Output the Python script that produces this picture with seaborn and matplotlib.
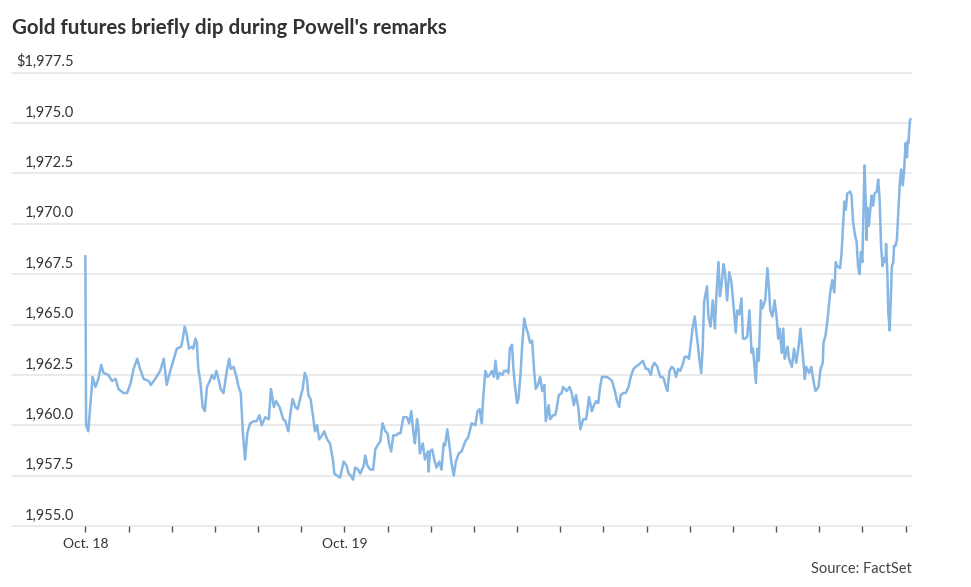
import pandas as pd
import seaborn as sns
import matplotlib.pyplot as plt

# Gold futures, Oct. 18 6 p.m. ET through Oct. 19 ~1 p.m. ET
# minutes after 6 p.m. on Oct. 18 at each turn of the line
minutes = [
    0, 1, 4, 10, 14, 18, 22, 25, 32, 37, 42, 46, 53, 58, 63, 67, 72, 76, 81, 88,
    91, 97, 104, 109, 113, 118, 123, 127, 133, 135, 138, 141, 144, 148, 150, 153, 155, 157, 160, 163,
    166, 169, 173, 176, 179, 182, 185, 188, 192, 197, 200, 202, 206, 210, 213, 216, 219, 222, 225, 229,
    234, 238, 242, 245, 250, 255, 258, 262, 265, 270, 275, 278, 282, 285, 288, 292, 295, 299, 302, 305,
    308, 310, 313, 317, 319, 322, 325, 329, 332, 336, 340, 344, 346, 350, 354, 359, 363, 366, 369, 372,
    375, 379, 382, 387, 389, 392, 396, 400, 403, 406, 410, 413, 417, 420, 422, 425, 428, 432, 435, 438,
    442, 447, 450, 453, 456, 458, 461, 463, 465, 469, 472, 476, 477, 479, 482, 485, 488, 492, 495, 498,
    500, 503, 506, 509, 512, 515, 519, 523, 528, 532, 537, 542, 545, 548, 551, 553, 556, 559, 562, 565,
    568, 570, 573, 576, 580, 582, 586, 588, 590, 593, 595, 597, 600, 602, 605, 607, 610, 613, 615, 618,
    621, 624, 626, 629, 632, 635, 638, 640, 644, 646, 650, 653, 655, 658, 662, 664, 669, 673, 676, 679,
    682, 685, 688, 692, 696, 698, 700, 704, 707, 710, 713, 715, 718, 722, 725, 729, 732, 736, 739, 742,
    744, 748, 751, 755, 758, 762, 765, 769, 772, 775, 779, 782, 786, 788, 791, 795, 799, 802, 804, 807,
    809, 812, 815, 818, 821, 824, 827, 831, 833, 837, 839, 841, 844, 847, 850, 852, 853, 856, 858, 860,
    864, 866, 869, 872, 875, 877, 880, 882, 884, 887, 889, 892, 895, 898, 901, 904, 906, 909, 912, 914,
    917, 920, 923, 926, 928, 932, 934, 936, 939, 941, 945, 948, 950, 952, 955, 958, 961, 963, 965, 968,
    970, 972, 976, 978, 982, 985, 988, 991, 994, 997, 1000, 1002, 1006, 1009, 1013, 1015, 1019, 1022, 1025, 1026,
    1029, 1032, 1035, 1038, 1041, 1043, 1045, 1049, 1051, 1055, 1057, 1059, 1063, 1065, 1067, 1070, 1072, 1074, 1076, 1078,
    1080, 1083, 1085, 1086, 1087, 1089, 1091, 1093, 1095, 1097, 1100, 1102, 1104, 1106, 1108, 1110, 1112, 1113, 1115, 1116,
    1118, 1120, 1121, 1123, 1124, 1126, 1128, 1130, 1132, 1134, 1136, 1138, 1140, 1142, 1143, 1144, 1146, 1147,
]
price = [
    1968.4, 1960.0, 1959.7, 1962.4, 1961.9, 1962.3, 1963.0, 1962.6, 1962.5, 1962.2, 1962.3, 1961.8, 1961.6, 1961.6, 1962.1, 1962.8, 1963.3, 1962.8, 1962.3, 1962.2,
    1962.0, 1962.3, 1962.7, 1963.3, 1962.0, 1962.7, 1963.3, 1963.8, 1963.9, 1964.2, 1964.9, 1964.5, 1963.8, 1963.9, 1963.8, 1964.3, 1964.1, 1962.8, 1962.1, 1960.9,
    1960.7, 1961.9, 1962.2, 1962.5, 1962.3, 1962.7, 1962.3, 1961.8, 1961.6, 1962.8, 1963.3, 1962.8, 1962.9, 1962.4, 1961.9, 1961.6, 1959.6, 1958.3, 1959.6, 1960.1,
    1960.2, 1960.2, 1960.5, 1960.0, 1960.4, 1960.3, 1961.8, 1960.9, 1961.2, 1960.9, 1960.3, 1960.2, 1959.7, 1960.6, 1961.3, 1960.9, 1960.8, 1961.4, 1961.8, 1962.6,
    1962.3, 1961.5, 1961.3, 1960.3, 1959.7, 1960.0, 1959.3, 1959.5, 1959.7, 1959.3, 1959.1, 1958.3, 1957.6, 1957.5, 1957.4, 1958.2, 1958.0, 1957.6, 1957.5, 1957.3,
    1957.9, 1957.8, 1957.6, 1958.0, 1958.5, 1958.0, 1957.8, 1957.8, 1958.8, 1959.0, 1959.2, 1960.1, 1959.7, 1959.6, 1959.1, 1958.7, 1959.5, 1959.5, 1959.6, 1959.6,
    1960.4, 1960.4, 1960.1, 1960.7, 1959.6, 1959.1, 1960.3, 1959.8, 1958.6, 1959.1, 1958.3, 1958.7, 1957.7, 1958.7, 1958.8, 1958.3, 1957.9, 1958.2, 1957.8, 1959.1,
    1959.0, 1959.8, 1959.0, 1958.1, 1957.5, 1958.2, 1958.6, 1958.7, 1959.2, 1959.4, 1960.1, 1960.0, 1960.7, 1960.8, 1960.1, 1961.4, 1962.7, 1962.4, 1962.5, 1962.7,
    1962.4, 1963.2, 1962.3, 1962.6, 1962.5, 1962.7, 1962.7, 1962.6, 1963.8, 1964.0, 1962.8, 1962.0, 1961.1, 1961.3, 1962.6, 1963.9, 1965.3, 1964.8, 1964.6, 1964.1,
    1964.2, 1962.6, 1961.8, 1962.0, 1962.4, 1961.7, 1962.0, 1960.2, 1961.0, 1960.3, 1960.5, 1960.5, 1960.8, 1961.5, 1961.6, 1961.9, 1961.7, 1961.9, 1961.6, 1961.0,
    1961.5, 1960.9, 1959.8, 1960.3, 1960.3, 1960.8, 1961.4, 1960.7, 1961.0, 1961.2, 1961.1, 1961.8, 1962.4, 1962.4, 1962.4, 1962.3, 1962.2, 1961.7, 1961.2, 1960.9,
    1961.5, 1961.6, 1961.6, 1961.9, 1962.4, 1962.8, 1962.9, 1963.0, 1963.1, 1963.2, 1962.8, 1962.8, 1962.5, 1962.9, 1963.1, 1962.9, 1962.4, 1962.4, 1962.3, 1961.9,
    1961.7, 1962.7, 1962.9, 1962.8, 1962.4, 1962.8, 1962.7, 1963.1, 1963.4, 1963.4, 1963.3, 1963.9, 1964.8, 1965.4, 1964.4, 1963.8, 1963.4, 1962.6, 1963.8, 1966.1,
    1966.9, 1965.4, 1964.9, 1966.2, 1964.8, 1966.4, 1968.1, 1966.4, 1966.9, 1968.0, 1967.6, 1966.2, 1967.6, 1967.1, 1965.9, 1964.6, 1965.7, 1965.5, 1966.3, 1964.3,
    1964.3, 1964.4, 1965.7, 1963.6, 1963.8, 1962.1, 1963.8, 1963.2, 1966.2, 1965.8, 1966.2, 1967.8, 1966.9, 1965.7, 1965.4, 1966.2, 1965.3, 1964.3, 1964.8, 1963.6,
    1964.8, 1963.3, 1963.9, 1963.3, 1962.9, 1963.8, 1963.1, 1963.8, 1964.8, 1963.6, 1962.3, 1962.9, 1962.6, 1962.9, 1962.0, 1961.7, 1961.9, 1962.8, 1963.1, 1964.1,
    1964.5, 1965.4, 1966.5, 1967.2, 1966.6, 1968.1, 1967.9, 1967.8, 1968.5, 1971.1, 1970.7, 1971.5, 1971.6, 1971.4, 1970.1, 1969.4, 1969.1, 1967.9, 1967.5, 1968.6,
    1968.1, 1972.9, 1970.7, 1969.2, 1970.8, 1969.9, 1970.7, 1971.4, 1970.9, 1971.5, 1971.6, 1972.2, 1971.2, 1968.9, 1967.9, 1968.3, 1968.1, 1969.0, 1967.3, 1965.6,
    1964.7, 1966.8, 1967.9, 1968.1, 1968.9, 1968.9, 1969.2, 1970.6, 1972.0, 1972.7, 1971.9, 1972.6, 1974.0, 1973.3, 1974.1, 1974.0, 1975.1, 1975.2,
]

# hourly ticks, only two of them labelled
tick_minutes = list(range(0, 1141, 60))
tick_names = {0: 'Oct. 18', 360: 'Oct. 19'}
y_ticks = [1955.0, 1957.5, 1960.0, 1962.5, 1965.0, 1967.5, 1970.0, 1972.5, 1975.0, 1977.5]

df = pd.DataFrame({'minute': minutes, 'price': price})

sns.set_theme(style='white')
plt.rcParams['font.family'] = ['Lato', 'DejaVu Sans']

W, H = 971, 587
fig = plt.figure(figsize=(W / 100, H / 100), dpi=100)
ax = fig.add_axes([12 / W, 61 / H, 900 / W, 453.3 / H])

sns.lineplot(data=df, x='minute', y='price', ax=ax, color='#86b6e3', linewidth=1.8)

ax.set_xlim(-102, 1149)
ax.set_ylim(1955, 1977.5)

for v in y_ticks:
    ax.axhline(v, color='#e4e4e4', lw=1.1, zorder=0, clip_on=False)
    txt = f'${v:,.1f}' if v == y_ticks[-1] else f'{v:,.1f}'
    ax.annotate(txt, xy=(0, v), xycoords=('axes fraction', 'data'),
                xytext=(62 * 0.72, 2.5), textcoords='offset points',
                ha='right', va='bottom', fontsize=10.5, color='#333333')

ax.set_yticks([])
ax.set_xticks(tick_minutes)
ax.set_xticklabels([tick_names.get(m, '') for m in tick_minutes])
ax.tick_params(axis='x', direction='out', length=4, width=1, color='#555555',
               pad=5, labelsize=10, labelcolor='#333333', bottom=True)
ax.set_xlabel('')
ax.set_ylabel('')
for s in ax.spines.values():
    s.set_visible(False)

fig.text(12 / W, 1 - 28 / H, "Gold futures briefly dip during Powell's remarks",
         fontsize=14.8, fontweight='bold', color='#333333', va='center', ha='left')
fig.text(912 / W, 1 - 569 / H, 'Source: FactSet', fontsize=10.5, color='#444444',
         va='center', ha='right')

fig.savefig('out.png', dpi=100, facecolor='white')
